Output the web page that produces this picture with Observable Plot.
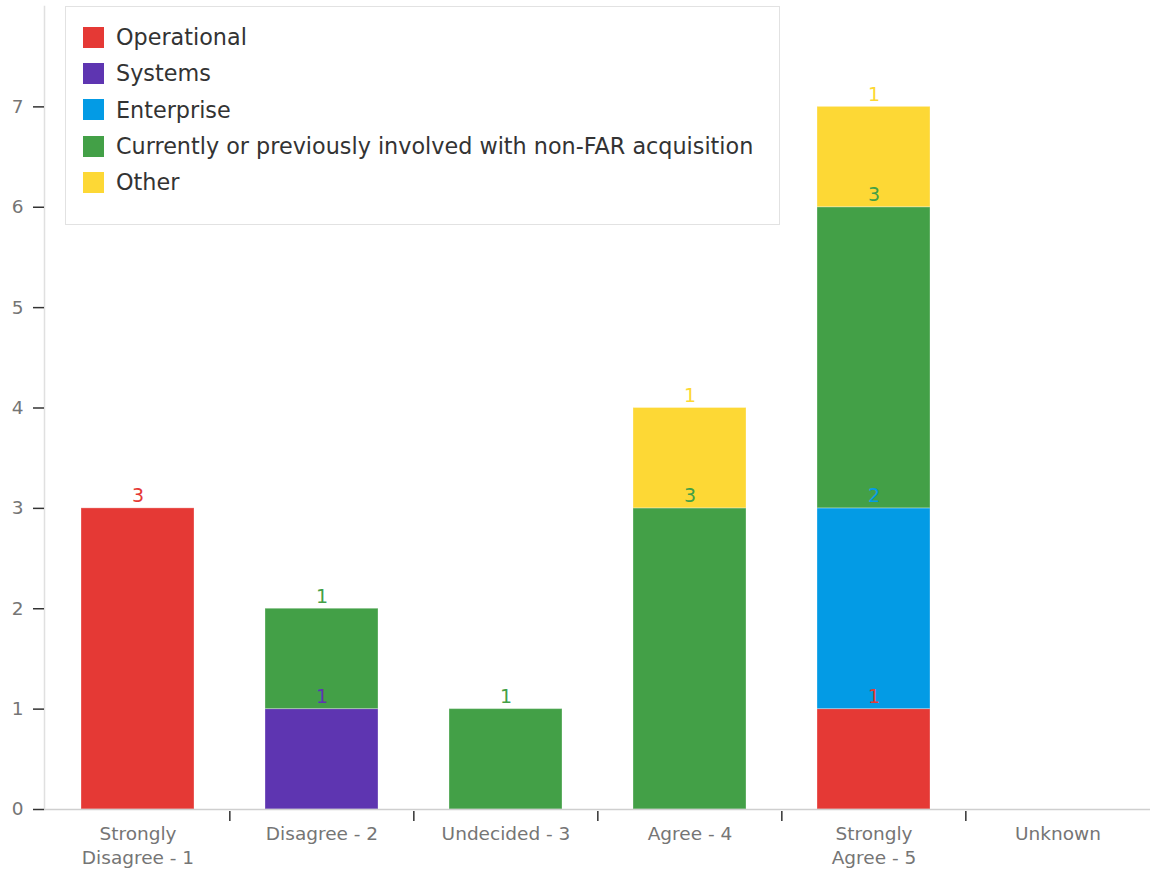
<!DOCTYPE html>
<html>
<head>
<meta charset="utf-8">
<script src="https://cdn.jsdelivr.net/npm/d3@7"></script>
<script src="https://cdn.jsdelivr.net/npm/@observablehq/plot@0.6"></script>
<style>
  body { margin: 0; background: #fff; font-family: "DejaVu Sans", sans-serif; }
  #chart { position: relative; width: 1154px; height: 871px; }
  #legend {
    position: absolute; left: 65px; top: 6px; width: 715px; height: 219px;
    box-sizing: border-box; border: 1.5px solid #e2e2e2; background: #fff;
    padding: 12px 0 0 17px;
  }
  .row { display: flex; align-items: center; height: 36.3px; font-size: 22.3px; color: #333; white-space: nowrap; }
  .sw { width: 21px; height: 21px; margin-right: 12px; flex: none; }
</style>
</head>
<body>
<div id="chart"></div>
<script>
// Response categories along the x axis
const categories = ["Strongly Disagree - 1", "Disagree - 2", "Undecided - 3", "Agree - 4", "Strongly Agree - 5", "Unknown"];
const tickLabels = ["Strongly\nDisagree - 1", "Disagree - 2", "Undecided - 3", "Agree - 4", "Strongly\nAgree - 5", "Unknown"];

// Respondent groups (stack order, bottom to top)
const series = ["Operational", "Systems", "Enterprise", "Currently or previously involved with non-FAR acquisition", "Other"];
const colors = ["#e53935", "#5e35b1", "#039be5", "#43a047", "#fdd835"];

// Counts per group, one value per category
const operational = [3, 0, 0, 0, 1, 0];
const systems     = [0, 1, 0, 0, 0, 0];
const enterprise  = [0, 0, 0, 0, 2, 0];
const nonFar      = [0, 1, 1, 3, 3, 0];
const other       = [0, 0, 0, 1, 1, 0];

const yTicks = [0, 1, 2, 3, 4, 5, 6, 7];

const seriesValues = [operational, systems, enterprise, nonFar, other];
const data = [];
series.forEach((s, si) => {
  categories.forEach((c, ci) => {
    const v = seriesValues[si][ci];
    if (v > 0) data.push({cat: c, series: s, value: v});
  });
});

const W = 1154, H = 871, mL = 44, mR = 4, mT = 6, mB = 62;
const step = (W - mL - mR) / categories.length;
const font = "'DejaVu Sans', sans-serif";

const chart = Plot.plot({
  width: W, height: H,
  marginTop: mT, marginBottom: mB, marginLeft: mL, marginRight: mR,
  style: {fontFamily: font, fontSize: "18px", background: "#fff", overflow: "visible"},
  x: {domain: categories, paddingInner: 0.386, paddingOuter: 0.193, label: null, axis: null},
  y: {domain: [0, 8], label: null, axis: null},
  color: {domain: series, range: colors},
  marks: [
    Plot.frame({anchor: "left", stroke: "#e0e0e0", strokeWidth: 1.5}),
    Plot.barY(data, {x: "cat", y: "value", fill: "series", stroke: "#fff", strokeOpacity: 0.3, strokeWidth: 1}),
    Plot.ruleY([0], {stroke: "#cfcfcf", strokeWidth: 1.5}),
    // segment totals, written just above the top of each segment
    Plot.text(data, Plot.stackY2({
      x: "cat", y: "value", z: "series", text: "value", fill: "series",
      lineAnchor: "bottom", dy: -6, fontSize: 19
    })),
    Plot.axisY({ticks: yTicks, tickSize: 11, tickPadding: 10, stroke: "#333", strokeWidth: 1.5, fill: "#757575", fontSize: 18.5, label: null}),
    Plot.axisX({tickSize: 0, tickPadding: 13, fill: "#757575", fontSize: 18.5, lineHeight: 1.3, label: null,
      tickFormat: d => tickLabels[categories.indexOf(d)]}),
    // band separators between categories
    Plot.axisX(categories.slice(1), {tickSize: 10, dx: -step / 2, dy: 2, stroke: "#333", strokeWidth: 1.5,
      tickFormat: () => "", label: null})
  ]
});

const root = document.getElementById("chart");
root.appendChild(chart);

const legend = document.createElement("div");
legend.id = "legend";
series.forEach((s, i) => {
  const row = document.createElement("div");
  row.className = "row";
  const sw = document.createElement("span");
  sw.className = "sw";
  sw.style.background = colors[i];
  const t = document.createElement("span");
  t.textContent = s;
  row.appendChild(sw);
  row.appendChild(t);
  legend.appendChild(row);
});
root.appendChild(legend);
</script>
</body>
</html>
